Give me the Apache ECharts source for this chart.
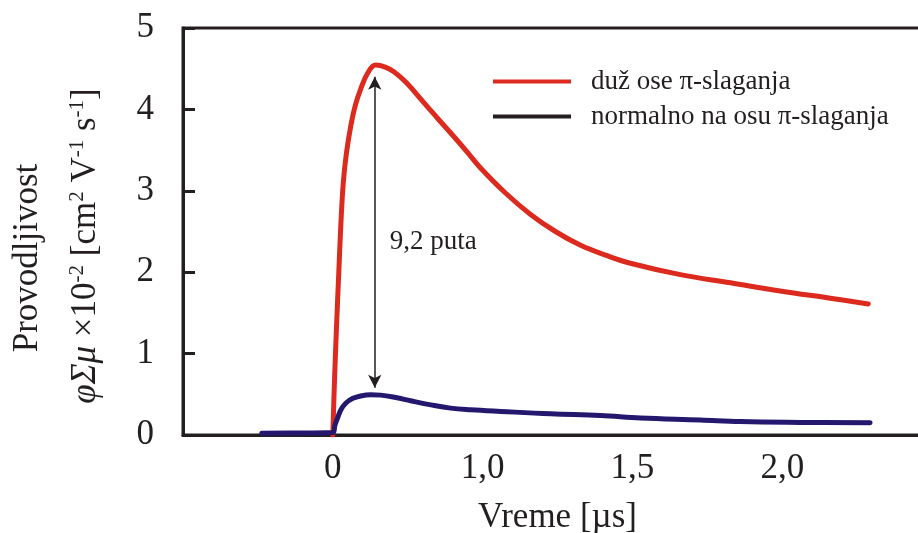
<!DOCTYPE html>
<html>
<head>
<meta charset="utf-8">
<script src="https://cdn.jsdelivr.net/npm/echarts@6/dist/echarts.min.js"></script>
<style>
  html, body { margin: 0; padding: 0; background: #fff; }
  #chart { width: 918px; height: 533px; }
</style>
</head>
<body>
<div id="chart"></div>
<script>
// Tick positions on the time axis and the labels printed under them
const xTickValues = [0.5, 1, 1.5, 2];
const xTickLabels = ["0", "1,0", "1,5", "2,0"];

const seriesNames = ["duž ose π-slaganja", "normalno na osu π-slaganja"];

// duž ose (red)
const alongX = [0.5, 0.505, 0.512, 0.52, 0.527, 0.535, 0.545, 0.56, 0.575, 0.593, 0.617, 0.643, 0.675, 0.705, 0.745, 0.793, 0.845, 0.903, 0.95, 0.993, 1.077, 1.16, 1.243, 1.327, 1.41, 1.493, 1.66, 1.827, 1.993, 2.16, 2.287];
const alongY = [0, 0.6, 1.3, 2.0, 2.6, 3.1, 3.45, 3.8, 4.05, 4.25, 4.45, 4.545, 4.52, 4.46, 4.33, 4.13, 3.91, 3.67, 3.47, 3.28, 2.97, 2.71, 2.5, 2.33, 2.21, 2.11, 1.97, 1.87, 1.77, 1.68, 1.61];

// normalno na osu (navy)
const normalX = [0.263, 0.4, 0.5, 0.507, 0.517, 0.527, 0.543, 0.567, 0.593, 0.627, 0.66, 0.71, 0.76, 0.827, 0.893, 0.96, 1.06, 1.227, 1.393, 1.527, 1.727, 1.86, 2.06, 2.293];
const normalY = [0.02, 0.025, 0.03, 0.12, 0.22, 0.31, 0.39, 0.45, 0.48, 0.495, 0.49, 0.46, 0.42, 0.37, 0.33, 0.31, 0.29, 0.26, 0.24, 0.21, 0.185, 0.165, 0.155, 0.15];

// "9,2 puta" arrow
const ratioArrowX = 0.64;
const ratioArrowY = [0.58, 4.4];
const ratioLabel = "9,2 puta";
const ratioLabelPos = [0.69, 2.37];

const font = "'Liberation Serif', 'DejaVu Serif', serif";
const ink = "#231f20";

const chart = echarts.init(document.getElementById("chart"));

const option = {
  animation: false,
  // frame: border on all sides, the right one pushed just past the canvas edge
  grid: {
    left: 183, right: -3, top: 28, bottom: 98,
    outerBoundsMode: "none", containLabel: false,
    show: true, borderColor: ink, borderWidth: 3,
  },
  legend: {
    orient: "vertical",
    left: 488,
    top: 63,
    itemWidth: 78,
    itemHeight: 4,
    itemGap: 8,
    selectedMode: false,
    textStyle: { fontFamily: font, fontSize: 27, color: ink, padding: [0, 0, 0, 15] },
    data: [
      { name: seriesNames[0], icon: "rect", itemStyle: { color: "#dc2a1e" } },
      { name: seriesNames[1], icon: "rect", itemStyle: { color: ink } },
    ],
  },
  xAxis: {
    type: "value",
    min: 0,
    max: 2.463,
    interval: 0.5,
    axisLine: { lineStyle: { color: ink, width: 3 } },
    axisTick: { show: false },
    splitLine: { show: false },
    axisLabel: {
      fontFamily: font,
      fontSize: 35,
      color: ink,
      margin: 16,
      showMinLabel: false,
      showMaxLabel: false,
      formatter: (v) => {
        const i = xTickValues.findIndex((t) => Math.abs(t - v) < 1e-6);
        return i >= 0 ? xTickLabels[i] : "";
      },
    },
    name: "Vreme [µs]",
    nameLocation: "middle",
    nameGap: 65,
    nameTextStyle: { fontFamily: font, fontSize: 35, color: ink, padding: [0, 0, 0, 11] },
  },
  yAxis: [
    {
      type: "value",
      min: 0,
      max: 5,
      interval: 1,
      axisLine: { show: true, lineStyle: { color: ink, width: 3 } },
      axisTick: { show: true, inside: true, length: 12, lineStyle: { color: ink, width: 3 } },
      splitLine: { show: false },
      axisLabel: { fontFamily: font, fontSize: 35, color: ink, margin: 29 },
    },
    {
      // tick marks only: a right axis moved back onto the left frame, ticks pointing inward
      type: "value",
      position: "right",
      offset: -738,
      min: 0,
      max: 5,
      interval: 1,
      z: 10,
      axisLine: { show: false },
      axisTick: { show: true, inside: false, length: 12, lineStyle: { color: ink, width: 3 } },
      axisLabel: { show: false },
      splitLine: { show: false },
    },
  ],
  graphic: [
    {
      type: "text",
      x: 28,
      y: 258,
      rotation: Math.PI / 2,
      style: {
        text: "Provodljivost",
        font: "35px " + font,
        fill: ink,
        align: "center",
        verticalAlign: "middle",
      },
    },
    {
      type: "text",
      x: 86,
      y: 246,
      rotation: Math.PI / 2,
      style: {
        text: "{i|φΣμ} ×10{s|-2} [cm{s|2} V{s|-1} s{s|-1}]",
        font: "35px " + font,
        fill: ink,
        align: "center",
        verticalAlign: "middle",
        rich: {
          i: { fontFamily: font, fontSize: 35, fontStyle: "italic", fill: ink, lineHeight: 38 },
          s: { fontFamily: font, fontSize: 21, fill: ink, verticalAlign: "top", lineHeight: 38 },
        },
      },
    },
  ],
  series: [
    {
      name: seriesNames[0],
      type: "line",
      data: alongX.map((x, i) => [x, alongY[i]]),
      showSymbol: false,
      smooth: 0.4,
      lineStyle: { color: "#dc2a1e", width: 5, cap: "round" },
      itemStyle: { color: "#dc2a1e" },
      z: 3,
      markLine: {
        silent: true,
        symbol: ["arrow", "arrow"],
        symbolSize: [10, 13],
        label: { show: false },
        lineStyle: { color: ink, width: 1.5, type: "solid" },
        data: [[{ coord: [ratioArrowX, ratioArrowY[0]] }, { coord: [ratioArrowX, ratioArrowY[1]] }]],
      },
      markPoint: {
        silent: true,
        symbolSize: 0,
        data: [{ coord: ratioLabelPos }],
        label: {
          show: true,
          position: "right",
          distance: 0,
          formatter: ratioLabel,
          fontFamily: font,
          fontSize: 27,
          color: ink,
        },
      },
    },
    {
      name: seriesNames[1],
      type: "line",
      data: normalX.map((x, i) => [x, normalY[i]]),
      showSymbol: false,
      smooth: 0.4,
      lineStyle: { color: "#24186e", width: 5, cap: "round" },
      itemStyle: { color: "#24186e" },
      z: 4,
    },
  ],
};

chart.setOption(option);
</script>
</body>
</html>
